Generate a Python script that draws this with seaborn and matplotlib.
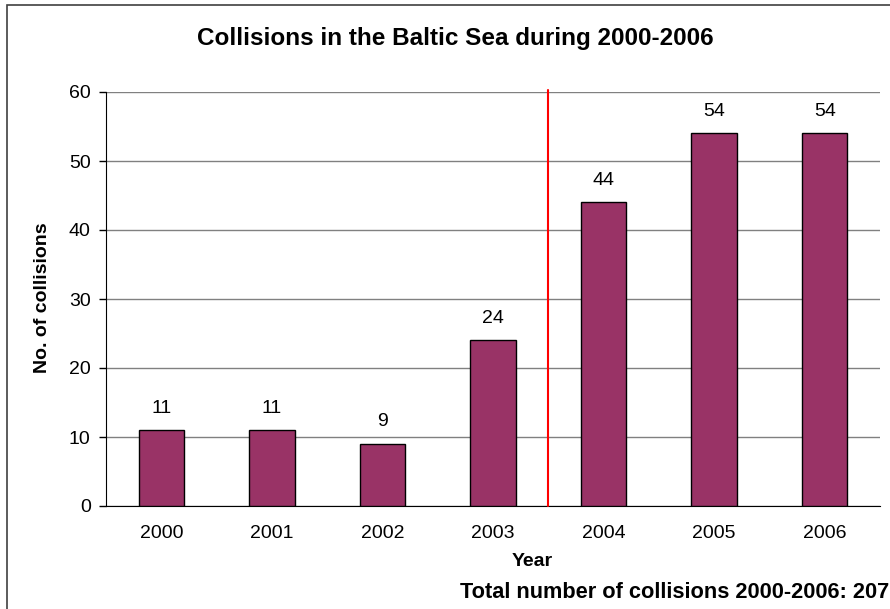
import pandas as pd
import matplotlib.pyplot as plt
import matplotlib.patches as mpatches
import seaborn as sns

# date
ani = ["2000", "2001", "2002", "2003", "2004", "2005", "2006"]
coliziuni = [11, 11, 9, 24, 44, 54, 54]
yticks = [0, 10, 20, 30, 40, 50, 60]
total = 207

df = pd.DataFrame({"an": ani, "nr": coliziuni})

sns.set_style("white")
plt.rcParams["font.family"] = ["Liberation Sans", "DejaVu Sans"]
plt.rcParams["text.color"] = "black"
plt.rcParams["xtick.color"] = "black"
plt.rcParams["ytick.color"] = "black"

fig = plt.figure(figsize=(8.9, 6.09), dpi=100)
ax = fig.add_axes([106 / 890, 1 - 506 / 609, (880 - 106) / 890, (506 - 92) / 609])

sns.barplot(data=df, x="an", y="nr", color="#993366", saturation=1, width=0.41,
            edgecolor="black", linewidth=1.0, ax=ax, zorder=3)

ax.set_xlim(-0.5, len(ani) - 0.5)
ax.set_ylim(0, 60)
ax.set_yticks(yticks)
ax.yaxis.grid(True, color="#808080", linewidth=1, zorder=0)
ax.set_axisbelow(True)

for s in ["top", "right"]:
    ax.spines[s].set_visible(False)
ax.spines["left"].set_color("black")
ax.spines["bottom"].set_color("black")

# ticks intre categorii
ax.set_xticks([i + 0.5 for i in range(-1, len(ani))], minor=True)
ax.tick_params(axis="x", which="major", length=0, labelsize=14, pad=14)
ax.tick_params(axis="x", which="minor", length=5, width=1, direction="out", color="black")
ax.tick_params(axis="y", length=5, width=1, direction="out", labelsize=14, pad=6, color="black", left=True)
ax.set_xlabel("")
ax.set_ylabel("")

# etichete valori
for i, v in enumerate(coliziuni):
    ax.text(i, v + 3.2, str(v), ha="center", va="center", fontsize=14)

# linia rosie
ax.axvline(3.5, color="red", linewidth=1.5, ymax=1.005, clip_on=False, zorder=4)

fig.text(455 / 890, 1 - 38 / 609, "Collisions in the Baltic Sea during 2000-2006",
         ha="center", va="center", fontsize=17.5, fontweight="bold")
fig.text(532 / 890, 1 - 561 / 609, "Year", ha="center", va="center",
         fontsize=14, fontweight="bold")
fig.text(43 / 890, 1 - 298 / 609, "No. of collisions", ha="center", va="center",
         rotation=90, fontsize=14, fontweight="bold")
fig.text(889 / 890, 1 - 593 / 609, f"Total number of collisions 2000-2006: {total}",
         ha="right", va="center", fontsize=15.7, fontweight="bold")

# chenar exterior
fig.patches.append(mpatches.Rectangle((7 / 890, -0.1), 1.2, 1 - 5 / 609 + 0.1,
                                      transform=fig.transFigure, fill=False,
                                      edgecolor="#404040", linewidth=1.2))

fig.savefig("out.png", dpi=100)
